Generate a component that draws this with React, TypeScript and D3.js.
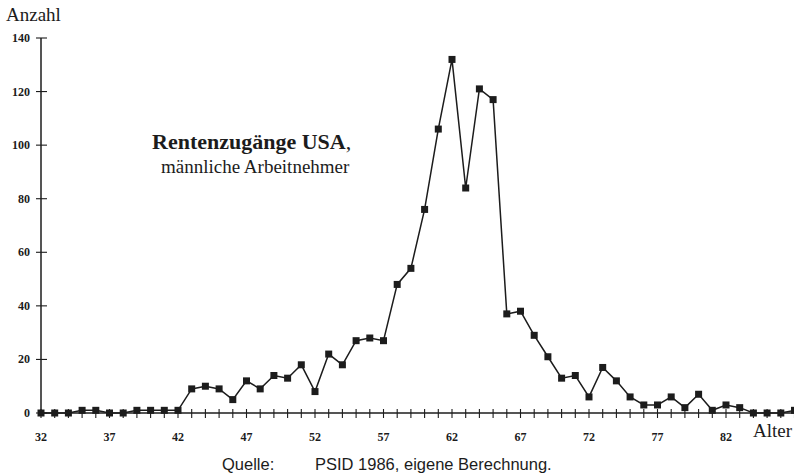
import * as d3 from "d3";

const ages = d3.range(32, 88);
const counts = [
  0, 0, 0, 1, 1, 0, 0, 1, 1, 1, 1, 9, 10, 9, 5, 12, 9, 14, 13, 18, 8, 22, 18, 27,
  28, 27, 48, 54, 76, 106, 132, 84, 121, 117, 37, 38, 29, 21, 13, 14, 6, 17, 12, 6,
  3, 3, 6, 2, 7, 1, 3, 2, 0, 0, 0, 1,
];
const xLabels = [32, 37, 42, 47, 52, 57, 62, 67, 72, 77, 82];
const yTicks = [0, 20, 40, 60, 80, 100, 120, 140];

const data = ages.map((a, i) => ({ age: a, n: counts[i] }));

export default function App() {
  const width = 794;
  const height = 473;

  const x = d3.scaleLinear().domain([32, 87]).range([41, 794.5]);
  const y = d3.scaleLinear().domain([0, 140]).range([413, 38]);

  const line = d3
    .line<{ age: number; n: number }>()
    .x((d) => x(d.age))
    .y((d) => y(d.n));

  const serif = "'Liberation Serif', 'Times New Roman', serif";
  const sans = "'Liberation Sans', Arial, sans-serif";
  const ink = "#1c1c1c";

  return (
    <svg
      width={width}
      height={height}
      style={{ position: "absolute", left: 0, top: 0, background: "#fff" }}
    >
      {/* axes */}
      <line x1={x(32)} x2={width} y1={y(0)} y2={y(0)} stroke={ink} strokeWidth={1.5} />
      <line x1={x(32)} x2={x(32)} y1={y(0)} y2={y(140)} stroke={ink} strokeWidth={1.5} />

      {ages.map((a) => (
        <line key={a} x1={x(a)} x2={x(a)} y1={y(0) - 4} y2={y(0) + 5} stroke={ink} strokeWidth={1.1} />
      ))}
      {yTicks.map((t) => (
        <line key={t} x1={x(32) - 5} x2={x(32) + 6} y1={y(t)} y2={y(t)} stroke={ink} strokeWidth={1.1} />
      ))}

      {yTicks.map((t) => (
        <text
          key={t}
          x={x(32) - 11}
          y={y(t) + 4}
          textAnchor="end"
          fontFamily={serif}
          fontWeight="bold"
          fontSize={12}
          fill={ink}
        >
          {t}
        </text>
      ))}
      {xLabels.map((t) => (
        <text
          key={t}
          x={x(t)}
          y={441}
          textAnchor="middle"
          fontFamily={serif}
          fontWeight="bold"
          fontSize={12}
          fill={ink}
        >
          {t}
        </text>
      ))}

      {/* data */}
      <path d={line(data) ?? ""} fill="none" stroke={ink} strokeWidth={1.5} />
      {data.map((d) => (
        <rect
          key={d.age}
          x={x(d.age) - 3.5}
          y={y(d.n) - 3.5}
          width={7}
          height={7}
          fill={ink}
        />
      ))}

      {/* labels */}
      <text x={6} y={21} fontFamily={serif} fontSize={19} fill={ink}>
        Anzahl
      </text>
      <text x={753} y={437} fontFamily={serif} fontSize={19} fill={ink}>
        Alter
      </text>
      <text x={152} y={149} fontFamily={serif} fontSize={22} fill={ink}>
        <tspan fontWeight="bold">Rentenzugänge USA</tspan>
        <tspan>,</tspan>
      </text>
      <text x={161} y={173} fontFamily={serif} fontSize={19} fill={ink}>
        männliche Arbeitnehmer
      </text>
      <text x={222} y={470} fontFamily={sans} fontSize={16.5} fill={ink}>
        Quelle:
      </text>
      <text x={315} y={470} fontFamily={sans} fontSize={16.5} fill={ink}>
        PSID 1986, eigene Berechnung.
      </text>
    </svg>
  );
}
